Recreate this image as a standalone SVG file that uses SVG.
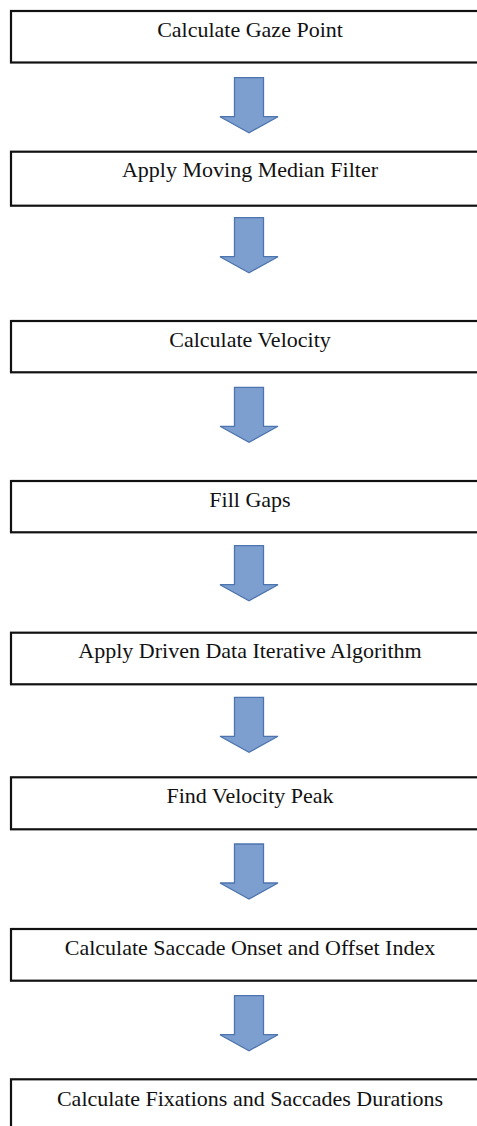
<svg xmlns="http://www.w3.org/2000/svg" width="477" height="1126" viewBox="0 0 477 1126">
  <defs>
    <style>
      .box { fill: #ffffff; stroke: #111111; stroke-width: 2.2; }
      .label { font-family: "Liberation Serif", "Times New Roman", serif; font-size: 22px; fill: #111111; text-anchor: middle; }
      .arrow { fill: #7d9fcf; stroke: #4d74ae; stroke-width: 1.3; stroke-linejoin: miter; }
    </style>
    <!-- block down-arrow, origin at top of shaft centre -->
    <path id="down" class="arrow" d="M-14.5,0 H14.5 V39 H29 L0,55 L-29,39 H-14.5 Z"/>
  </defs>
  <rect width="477" height="1126" fill="#ffffff"/>

  <g id="n1">
    <rect class="box" x="11" y="11" width="480" height="51.5"/>
    <text class="label" x="250" y="36.5">Calculate Gaze Point</text>
  </g>
  <g id="n2">
    <rect class="box" x="11" y="151.7" width="480" height="54"/>
    <text class="label" x="250" y="177">Apply Moving Median Filter</text>
  </g>
  <g id="n3">
    <rect class="box" x="11" y="321" width="480" height="51.3"/>
    <text class="label" x="250" y="346.5">Calculate Velocity</text>
  </g>
  <g id="n4">
    <rect class="box" x="11" y="481" width="480" height="51.3"/>
    <text class="label" x="250" y="506.5">Fill Gaps</text>
  </g>
  <g id="n5">
    <rect class="box" x="11" y="632.7" width="480" height="51.6"/>
    <text class="label" x="250" y="658">Apply Driven Data Iterative Algorithm</text>
  </g>
  <g id="n6">
    <rect class="box" x="11" y="777.3" width="480" height="52"/>
    <text class="label" x="250" y="803">Find Velocity Peak</text>
  </g>
  <g id="n7">
    <rect class="box" x="11" y="929" width="480" height="51.7"/>
    <text class="label" x="250" y="954.5">Calculate Saccade Onset and Offset Index</text>
  </g>
  <g id="n8">
    <rect class="box" x="11" y="1079.3" width="480" height="60"/>
    <text class="label" x="250" y="1106">Calculate Fixations and Saccades Durations</text>
  </g>

  <g id="connectors">
    <use href="#down" x="249" y="77.7"/>
    <use href="#down" x="249" y="217.7"/>
    <use href="#down" x="249" y="387.3"/>
    <use href="#down" x="249" y="545.7"/>
    <use href="#down" x="249" y="697.3"/>
    <use href="#down" x="249" y="844"/>
    <use href="#down" x="249" y="995.7"/>
  </g>
</svg>
